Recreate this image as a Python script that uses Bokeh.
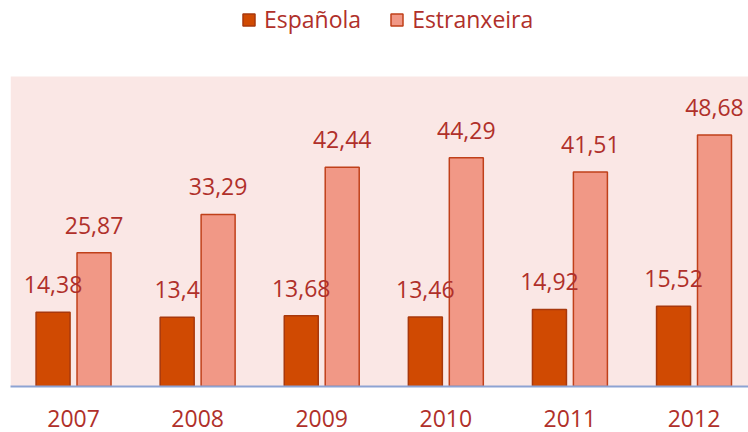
from bokeh.plotting import figure
from bokeh.models import ColumnDataSource, LabelSet, Legend, LegendItem, Range1d, BoxAnnotation, FixedTicker
from bokeh.transform import dodge
from bokeh.core.properties import value
from bokeh.embed import file_html
from bokeh.resources import INLINE

years = ["2007", "2008", "2009", "2010", "2011", "2012"]
espanola = [14.38, 13.4, 13.68, 13.46, 14.92, 15.52]
estranxeira = [25.87, 33.29, 42.44, 44.29, 41.51, 48.68]
esp_labels = ["14,38", "13,4", "13,68", "13,46", "14,92", "15,52"]
est_labels = ["25,87", "33,29", "42,44", "44,29", "41,51", "48,68"]

idx = list(range(len(years)))
src = ColumnDataSource(dict(i=idx, year=years, esp=espanola, est=estranxeira,
                            esp_l=esp_labels, est_l=est_labels))

TXT = "#B0302A"
FONT = "Open Sans"

p = figure(x_range=Range1d(-0.508, 5.439), y_range=Range1d(0, 74.7),
           width=748, height=432, output_backend="svg", toolbar_location=None,
           min_border_left=10, min_border_right=0, min_border_top=0, min_border_bottom=46)
p.background_fill_color = "white"
p.border_fill_color = "white"
p.outline_line_color = None
p.xgrid.visible = False
p.ygrid.visible = False
p.yaxis.visible = False

p.add_layout(BoxAnnotation(bottom=0, top=60, fill_color="#FAE7E5", fill_alpha=1,
                           line_color=None, level="underlay"))

r1 = p.vbar(x=dodge("i", -0.165), top="esp", width=0.274, source=src,
            fill_color="#D04A02", line_color="#A8380C", line_width=1.5)
r2 = p.vbar(x=dodge("i", 0.165), top="est", width=0.274, source=src,
            fill_color="#F19886", line_color="#C0401A", line_width=1.5)

for xo, col, lab in [(-0.165, "esp", "esp_l"), (0.165, "est", "est_l")]:
    ls = LabelSet(x=dodge("i", xo), y=col, text=lab, source=src,
                  text_align="center", text_baseline="alphabetic", y_offset=19,
                  text_color=TXT, text_font_size="23px", text_font=value(FONT))
    p.add_layout(ls)

ax = p.xaxis[0]
ax.ticker = FixedTicker(ticks=idx)
ax.major_label_overrides = {i: y for i, y in zip(idx, years)}
ax.major_tick_line_color = None
ax.minor_tick_line_color = None
ax.axis_line_color = "#8DA3D3"
ax.axis_line_width = 2
ax.major_label_text_font_size = "23px"
ax.major_label_text_color = TXT
ax.major_label_text_font = FONT
ax.major_label_standoff = 17

legend = Legend(items=[LegendItem(label="Española", renderers=[r1]),
                       LegendItem(label="Estranxeira", renderers=[r2])],
                orientation="horizontal", location=(231, 351),
                label_text_font_size="23px", label_text_color=TXT, label_text_font=FONT,
                glyph_width=15, glyph_height=15, label_standoff=8, spacing=28,
                padding=0, margin=0, border_line_color=None, background_fill_alpha=0)
p.add_layout(legend)

open("out.html", "w").write(file_html(p, INLINE))
